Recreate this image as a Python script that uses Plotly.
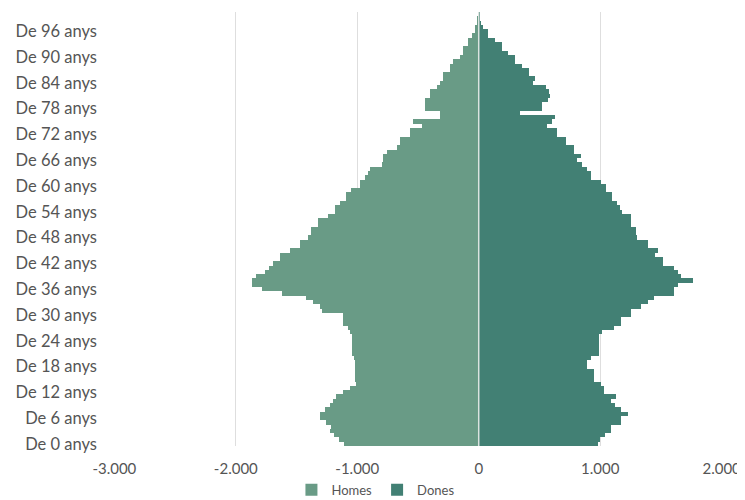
import plotly.graph_objects as go

ages = list(range(0, 101))
age_labels = [f"De {a} anys" for a in ages]

# Homes (men), plotted to the left as negative values, ages 0..100
homes = [1110, 1150, 1190, 1227, 1213, 1255, 1310, 1310, 1268, 1227,
         1200, 1172, 1120, 1062, 1007, 1020, 1020, 1020, 1020, 1020,
         1030, 1045, 1045, 1045, 1045, 1045, 1060, 1078, 1120, 1120,
         1120, 1290, 1310, 1365, 1420, 1616, 1781, 1863, 1863, 1835,
         1760, 1723, 1698, 1640, 1640, 1558, 1475, 1475, 1409, 1379,
         1379, 1325, 1325, 1242, 1186, 1186, 1145, 1089, 1089, 1048,
         979, 979, 938, 910, 897, 800, 787, 787, 759, 676,
         649, 649, 566, 566, 469, 541, 318, 318, 442, 442,
         442, 401, 401, 346, 318, 293, 293, 235, 235, 210,
         153, 128, 128, 87, 87, 56, 29, 29, 15, 10,
         5]

# Dones (women), ages 0..100
dones = [985, 1000, 1040, 1087, 1090, 1170, 1170, 1230, 1170, 1120,
         1087, 1128, 1030, 1030, 1004, 946, 946, 946, 894, 894,
         921, 988, 988, 988, 988, 988, 1018, 1112, 1170, 1170,
         1252, 1252, 1335, 1390, 1443, 1607, 1607, 1638, 1762, 1665,
         1640, 1607, 1514, 1514, 1450, 1473, 1390, 1390, 1307, 1293,
         1293, 1252, 1252, 1252, 1183, 1160, 1142, 1100, 1100, 1045,
         1045, 1004, 921, 921, 894, 850, 811, 839, 784, 784,
         715, 715, 646, 646, 564, 600, 632, 343, 522, 522,
         570, 590, 580, 550, 450, 465, 410, 410, 355, 300,
         300, 245, 190, 190, 135, 79, 79, 37, 20, 12,
         8]

x_tick_values = [-3000, -2000, -1000, 0, 1000, 2000]
x_tick_labels = ["-3.000", "-2.000", "-1.000", "0", "1.000", "2.000"]
y_tick_ages = list(range(0, 97, 6))
y_tick_labels = [f"De {a} anys" for a in y_tick_ages]

fig = go.Figure()
fig.add_trace(go.Bar(
    y=ages, x=[-v for v in homes], orientation="h", name="Homes",
    marker=dict(color="#699b86", line=dict(width=0)),
    customdata=homes, hovertemplate="%{customdata}<extra>Homes</extra>",
))
fig.add_trace(go.Bar(
    y=ages, x=dones, orientation="h", name="Dones",
    marker=dict(color="#428074", line=dict(width=0)),
    hovertemplate="%{x}<extra>Dones</extra>",
))

fig.add_shape(type="line", xref="x", yref="paper", x0=0, x1=0, y0=0, y1=1,
              line=dict(color="#dce3e0", width=1.5), layer="above")

# The page body adds an 8px margin, so the figure is sized to fit the 745x500 window.
fig.update_layout(
    width=737, height=492,
    margin=dict(l=106, r=23, t=4, b=54, autoexpand=False),
    barmode="overlay", bargap=0,
    plot_bgcolor="white", paper_bgcolor="white",
    font=dict(family="Lato, 'Open Sans', sans-serif", size=15, color="#555555"),
    showlegend=True,
    legend=dict(orientation="h", x=0.43, xanchor="center", y=-0.101, yanchor="middle",
                font=dict(size=13, color="#555555"), itemwidth=30,
                traceorder="normal", tracegroupgap=0),
    xaxis=dict(range=[-3003, 2003], tickvals=x_tick_values, ticktext=x_tick_labels,
               showgrid=True, gridcolor="#dedede", gridwidth=1,
               zeroline=False, showline=False, ticks="", fixedrange=True,
               automargin=False, ticklabelstandoff=12,
               tickfont=dict(size=15)),
    yaxis=dict(range=[-0.5, 100.5], tickvals=y_tick_ages, ticktext=y_tick_labels,
               showgrid=False, zeroline=False, showline=False, ticks="",
               automargin=False, ticklabelstandoff=16,
               tickfont=dict(size=16.5)),
)

fig.write_html("out.html")
